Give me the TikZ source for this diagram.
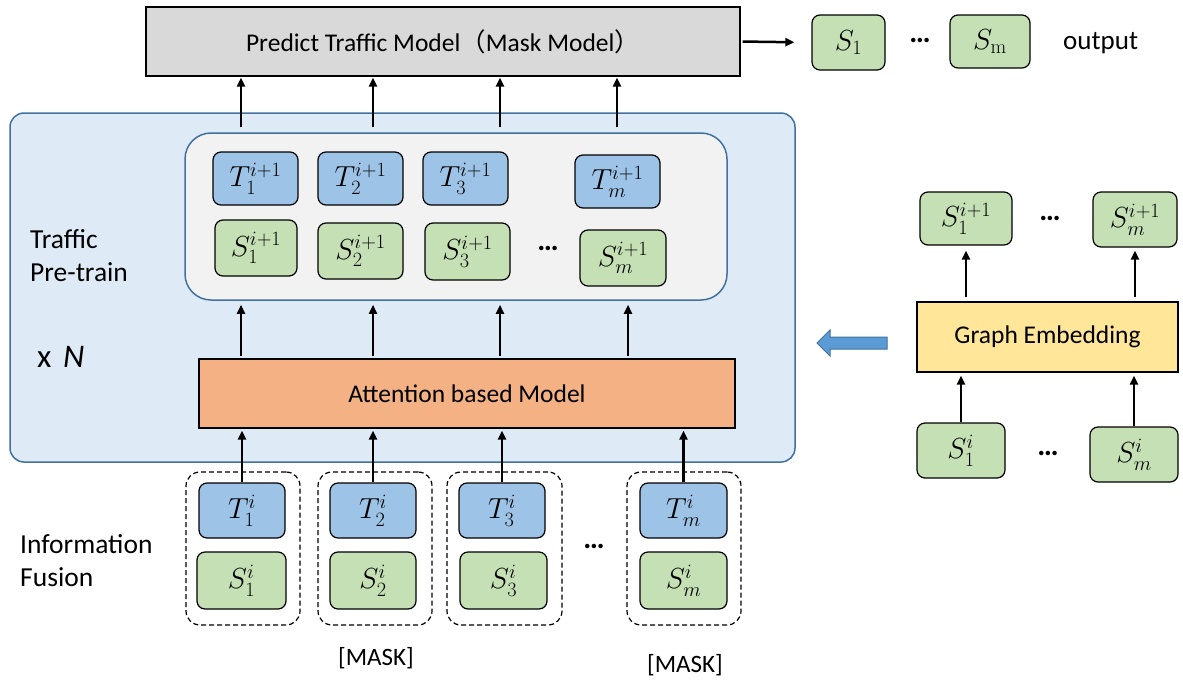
\RequirePackage{fix-cm}
\documentclass[tikz,border=0pt]{standalone}
\usepackage[no-math]{fontspec}
\setmainfont{Carlito}
\newfontfamily\cjk{Noto Sans CJK SC}
\usetikzlibrary{arrows.meta,calc}
\definecolor{bgblue}{HTML}{DEEBF7}
\definecolor{edgeblue}{HTML}{41719C}
\definecolor{innergray}{HTML}{F2F2F2}
\definecolor{tblue}{HTML}{9DC3E6}
\definecolor{sgreen}{HTML}{C5E0B4}
\definecolor{topgray}{HTML}{D9D9D9}
\definecolor{attor}{HTML}{F4B183}
\definecolor{geyel}{HTML}{FFE699}
\definecolor{barrow}{HTML}{5B9BD5}
\newcommand\mybox[7]{\node[#1, minimum width={(#5)-(#3)}, minimum height={(#6)-(#4)}] (#2) at ({((#3)+(#5))/2},{((#4)+(#6))/2}) {#7};}
\begin{document}
\begin{tikzpicture}[x=1pt,y=-1pt,
  box/.style={draw=black, line width=1.2pt, rounded corners=8pt, inner sep=0pt, font=\fontsize{29}{32}\selectfont},
  tbox/.style={box, fill=tblue},
  sbox/.style={box, fill=sgreen},
  panel/.style={draw=edgeblue, fill=bgblue, line width=1.5pt, rounded corners=14pt, inner sep=0pt},
  innerbox/.style={draw=edgeblue, fill=innergray, line width=1.5pt, rounded corners=26pt, inner sep=0pt},
  flat/.style={draw=black, line width=1.3pt, inner sep=0pt, font=\fontsize{25.5}{30}\selectfont},
  arr/.style={line width=2.2pt, -{Triangle[length=9pt,width=8pt]}},
  lbl/.style={font=\fontsize{27.5}{32}\selectfont, align=left, anchor=west, inner sep=0pt},
  grp/.style={draw=black, line width=1.2pt, rounded corners=14pt, dash pattern=on 5pt off 3pt, inner sep=0pt},
  dots/.style={font=\fontsize{30}{32}\selectfont\bfseries, inner sep=0pt}
]
\useasboundingbox (0,0) rectangle (1183,683);
% panel
\mybox{panel}{pre}{10}{113}{795}{462}{}
\mybox{innerbox}{inner}{185}{133}{727}{300}{}
% top
\mybox{flat, fill=topgray}{top}{146}{7}{740}{76}{Predict Traffic Model{\cjk （}Mask Model{\cjk ）}}
\mybox{sbox}{o1}{812}{15}{885}{70}{$S_1$}
\mybox{sbox}{om}{950}{15}{1030}{68}{$S_{\mathrm{m}}$}
\node[dots] (od) at (920,40) {…};
\node[lbl, font=\fontsize{27}{30}\selectfont] (outl) at (1063,43) {output};
\draw[arr, line width=2.5pt, shorten <=2pt, shorten >=17pt] (top.east) -- (o1.west);
% inner row
\mybox{tbox}{t1}{213}{152}{298}{205}{$T_1^{i+1}$}
\mybox{tbox}{t2}{318}{152}{403}{205}{$T_2^{i+1}$}
\mybox{tbox}{t3}{423}{152}{508}{205}{$T_3^{i+1}$}
\mybox{tbox}{tm}{575}{155}{660}{208}{$T_m^{i+1}$}
\mybox{sbox}{s1}{215}{220}{297}{276}{$S_1^{i+1}$}
\mybox{sbox}{s2}{318}{223}{403}{279}{$S_2^{i+1}$}
\mybox{sbox}{s3}{425}{223}{510}{280}{$S_3^{i+1}$}
\mybox{sbox}{sm}{580}{230}{666}{286}{$S_m^{i+1}$}
\node[dots] (idots) at (548,248) {…};
% attention
\mybox{flat, fill=attor}{att}{199}{359}{735}{428}{Attention based Model}
% labels
\node[lbl] (tp) at (30,256) {Traffic\\[1pt]Pre-train};
\node[lbl, font=\fontsize{33}{36}\selectfont] (xn) at (37,357) {x\hspace{0.35em}\textit{N}};
\node[lbl] (inf) at (20,561) {Information\\[1pt]Fusion};
% bottom groups
\mybox{grp}{g1}{186}{472}{300}{625}{}
\mybox{grp}{g2}{318}{472}{432}{625}{}
\mybox{grp}{g3}{447}{472}{562}{625}{}
\mybox{grp}{g4}{627}{472}{741}{625}{}
\mybox{tbox}{b1}{199}{483}{285}{538}{$T_1^{i}$}
\mybox{tbox}{b2}{330}{483}{416}{538}{$T_2^{i}$}
\mybox{tbox}{b3}{459}{483}{545}{538}{$T_3^{i}$}
\mybox{tbox}{bm}{640}{483}{727}{538}{$T_m^{i}$}
\mybox{sbox}{c1}{197}{552}{286}{609}{$S_1^{i}$}
\mybox{sbox}{c2}{330}{552}{416}{609}{$S_2^{i}$}
\mybox{sbox}{c3}{460}{552}{547}{609}{$S_3^{i}$}
\mybox{sbox}{cm}{640}{552}{727}{609}{$S_m^{i}$}
\node[dots] (bdots) at (594,546) {…};
\node[lbl, anchor=center, font=\fontsize{25}{30}\selectfont] (mask1) at (376,658) {[MASK]};
\node[lbl, anchor=center, font=\fontsize{25}{30}\selectfont] (mask2) at (685,665) {[MASK]};
% arrow coordinates
\coordinate (a1) at (241,0);
\coordinate (a2) at (373,0);
\coordinate (a3) at (500,0);
\coordinate (a4) at (617,0);
\coordinate (a5) at (628,0);
\foreach \a in {a1,a2,a3,a4}
  \draw[arr, shorten <=5pt, shorten >=1pt] (inner.north -| \a) -- (top.south -| \a);
\foreach \a in {a1,a2,a3,a5}
  \draw[arr, shorten <=2pt, shorten >=4pt] (att.north -| \a) -- (inner.south -| \a);
\foreach \b in {b1,b2,b3,bm}
  \draw[arr, shorten >=2pt] (\b.north) -- (\b.north |- att.south);
% right side
\mybox{sbox}{r1}{920}{192}{1012}{245}{$S_1^{i+1}$}
\mybox{sbox}{rm}{1093}{192}{1177}{247}{$S_m^{i+1}$}
\node[dots] (rdots) at (1050,218) {…};
\mybox{flat, fill=geyel}{ge}{917}{302}{1178}{372}{Graph Embedding}
\mybox{sbox}{q1}{917}{423}{1005}{478}{$S_1^{i}$}
\mybox{sbox}{qm}{1090}{427}{1178}{482}{$S_m^{i}$}
\node[dots] (qdots) at (1048,453) {…};
\draw[arr, shorten <=4pt, shorten >=5pt] (ge.north -| r1) -- (r1.south);
\draw[arr, shorten <=4pt, shorten >=3pt] (ge.north -| rm) -- (rm.south);
\draw[arr, shorten >=3pt] (q1.north) -- (q1.north |- ge.south);
\draw[arr, shorten >=3pt] (qm.north) -- (qm.north |- ge.south);
% block arrow
\draw[draw=edgeblue, fill=barrow, line width=1pt] (887,337) -- (830,337) -- (830,330) -- (817,343) -- (830,356) -- (830,349) -- (887,349) -- cycle;
\end{tikzpicture}
\end{document}
